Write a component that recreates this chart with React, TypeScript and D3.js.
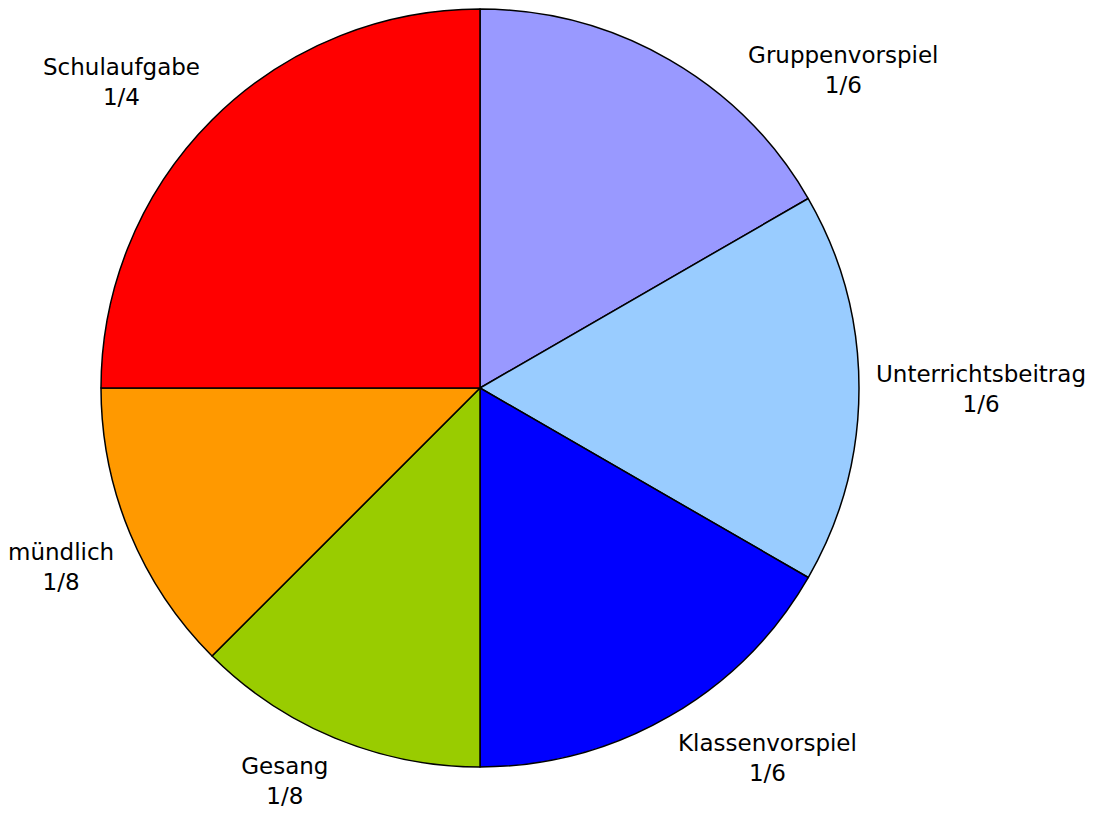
import React, { useEffect, useRef } from "react";
import * as d3 from "d3";

const categories = [
  "Gruppenvorspiel",
  "Unterrichtsbeitrag",
  "Klassenvorspiel",
  "Gesang",
  "mündlich",
  "Schulaufgabe",
];
const shares = [1 / 6, 1 / 6, 1 / 6, 1 / 8, 1 / 8, 1 / 4];
const shareLabels = ["1/6", "1/6", "1/6", "1/8", "1/8", "1/4"];
const colors = ["#9999FF", "#99CCFF", "#0000FF", "#99CC00", "#FF9900", "#FF0000"];

const width = 1096;
const height = 814;
const cx = 480;
const cy = 388;
const radius = 379;
const labelRadius = 396; // where the label box touches, Excel-style
const halfH = 27;
const minTop = 42;

const App: React.FC = () => {
  const svgRef = useRef<SVGSVGElement>(null);

  useEffect(() => {
    if (!svgRef.current) return;
    const svg = d3.select(svgRef.current);
    svg.selectAll("*").remove();

    const pie = d3
      .pie<number>()
      .sort(null)
      .value((d) => d);
    const arcs = pie(shares);

    const arc = d3
      .arc<d3.PieArcDatum<number>>()
      .innerRadius(0)
      .outerRadius(radius);

    const g = svg.append("g").attr("transform", `translate(${cx},${cy})`);

    g.selectAll("path")
      .data(arcs)
      .join("path")
      .attr("d", arc)
      .attr("fill", (d, i) => colors[i])
      .attr("stroke", "#000")
      .attr("stroke-width", 1.5)
      .attr("stroke-linejoin", "round");

    arcs.forEach((d, i) => {
      const text = g
        .append("text")
        .attr("font-family", "'DejaVu Sans', Verdana, sans-serif")
        .attr("font-size", 23)
        .attr("fill", "#000")
        .attr("text-anchor", "middle");
      const t1 = text.append("tspan").attr("x", 0).attr("y", 0).text(categories[i]);
      const t2 = text.append("tspan").attr("x", 0).attr("y", 30).text(shareLabels[i]);

      const w = Math.max(
        (t1.node() as SVGTSpanElement).getComputedTextLength(),
        (t2.node() as SVGTSpanElement).getComputedTextLength()
      );

      const place = (a: number) => {
        const s = Math.sin(a);
        const c = Math.cos(a);
        const sx = Math.abs(s) < 0.05 ? 0 : Math.sign(s);
        const sy = Math.abs(c) < 0.05 ? 0 : Math.sign(c);
        return {
          x: labelRadius * s + sx * (w / 2),
          y: -labelRadius * c - sy * halfH,
        };
      };

      let a = (d.startAngle + d.endAngle) / 2;
      let p = place(a);
      // keep the label inside the chart area by sliding it along the circle
      let guard = 0;
      while (p.y - halfH + cy < minTop && guard < 400) {
        a += a < Math.PI ? 0.002 : -0.002;
        p = place(a);
        guard++;
      }

      t1.attr("x", p.x).attr("y", p.y - 6.5);
      t2.attr("x", p.x).attr("y", p.y + 23.5);
    });
  }, []);

  return (
    <svg
      ref={svgRef}
      width={width}
      height={height}
      style={{ position: "absolute", left: 0, top: 0, background: "#fff", display: "block" }}
    />
  );
};

export default App;
